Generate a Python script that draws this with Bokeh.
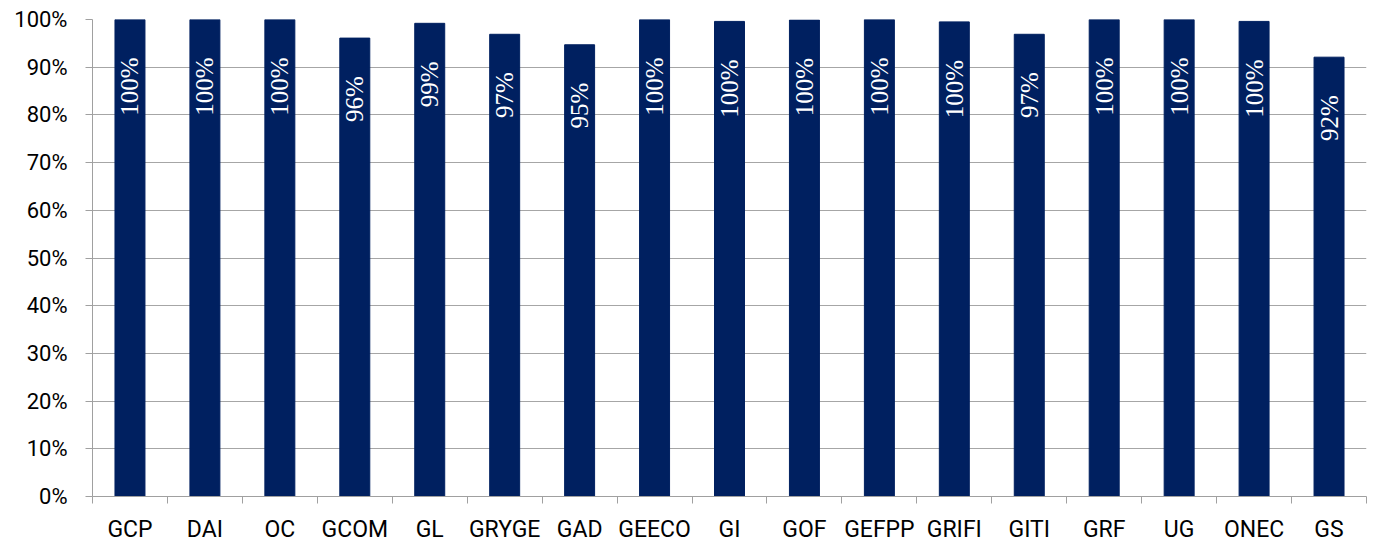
from math import pi
from bokeh.plotting import figure
from bokeh.models import ColumnDataSource, FixedTicker, NumeralTickFormatter, Range1d
from bokeh.core.properties import value
from bokeh.embed import file_html
from bokeh.resources import INLINE

categories = ["GCP", "DAI", "OC", "GCOM", "GL", "GRYGE", "GAD", "GEECO", "GI",
              "GOF", "GEFPP", "GRIFI", "GITI", "GRF", "UG", "ONEC", "GS"]
values = [1.0, 1.0, 1.0, 0.961, 0.992, 0.969, 0.947, 1.0, 0.996,
          0.999, 1.0, 0.995, 0.969, 1.0, 1.0, 0.996, 0.921]
labels = ["100%", "100%", "100%", "96%", "99%", "97%", "95%", "100%", "100%",
          "100%", "100%", "100%", "97%", "100%", "100%", "100%", "92%"]

xs = list(range(len(categories)))
src = ColumnDataSource(dict(x=xs, top=values, label=labels))

p = figure(width=1374, height=545, output_backend="svg", toolbar_location=None,
           x_range=Range1d(-0.5, len(categories) - 0.5), y_range=Range1d(0, 1.0),
           min_border_left=92, min_border_right=8, min_border_top=19, min_border_bottom=48)
p.outline_line_color = None
p.background_fill_color = "white"
p.border_fill_color = "white"

p.vbar(x="x", top="top", bottom=0, width=0.4, source=src,
       fill_color="#002060", line_color="#002060")

p.text(x="x", y="top", text="label", source=src, angle=pi / 2,
       text_align="right", text_baseline="middle", y_offset=38,
       text_color="white", text_font=value("Liberation Serif"),
       text_font_size=value("25px"))

# x axis
p.xaxis.ticker = FixedTicker(ticks=xs, minor_ticks=[i - 0.5 for i in range(len(categories) + 1)])
p.xaxis.major_label_overrides = {i: c for i, c in enumerate(categories)}
p.xaxis.major_tick_line_color = None
p.xaxis.minor_tick_out = 7
p.xaxis.minor_tick_in = 0
p.xaxis.minor_tick_line_color = "#a0a0a0"
p.xaxis.axis_line_color = "#a0a0a0"
p.xaxis.major_label_standoff = 12
p.xaxis.major_label_text_font = "Roboto"
p.xaxis.major_label_text_font_size = "23px"
p.xaxis.major_label_text_color = "black"

# y axis
p.yaxis.ticker = FixedTicker(ticks=[i / 10 for i in range(11)])
p.yaxis.formatter = NumeralTickFormatter(format="0%")
p.yaxis.major_tick_out = 7
p.yaxis.major_tick_in = 0
p.yaxis.minor_tick_line_color = None
p.yaxis.major_tick_line_color = "#a0a0a0"
p.yaxis.axis_line_color = "#a0a0a0"
p.yaxis.major_label_standoff = 18
p.yaxis.major_label_text_font = "Roboto"
p.yaxis.major_label_text_font_size = "22px"
p.yaxis.major_label_text_color = "black"

p.xgrid.grid_line_color = None
p.ygrid.grid_line_color = "#a6a6a6"
p.ygrid.grid_line_width = 1

open("out.html", "w").write(file_html(p, INLINE))
